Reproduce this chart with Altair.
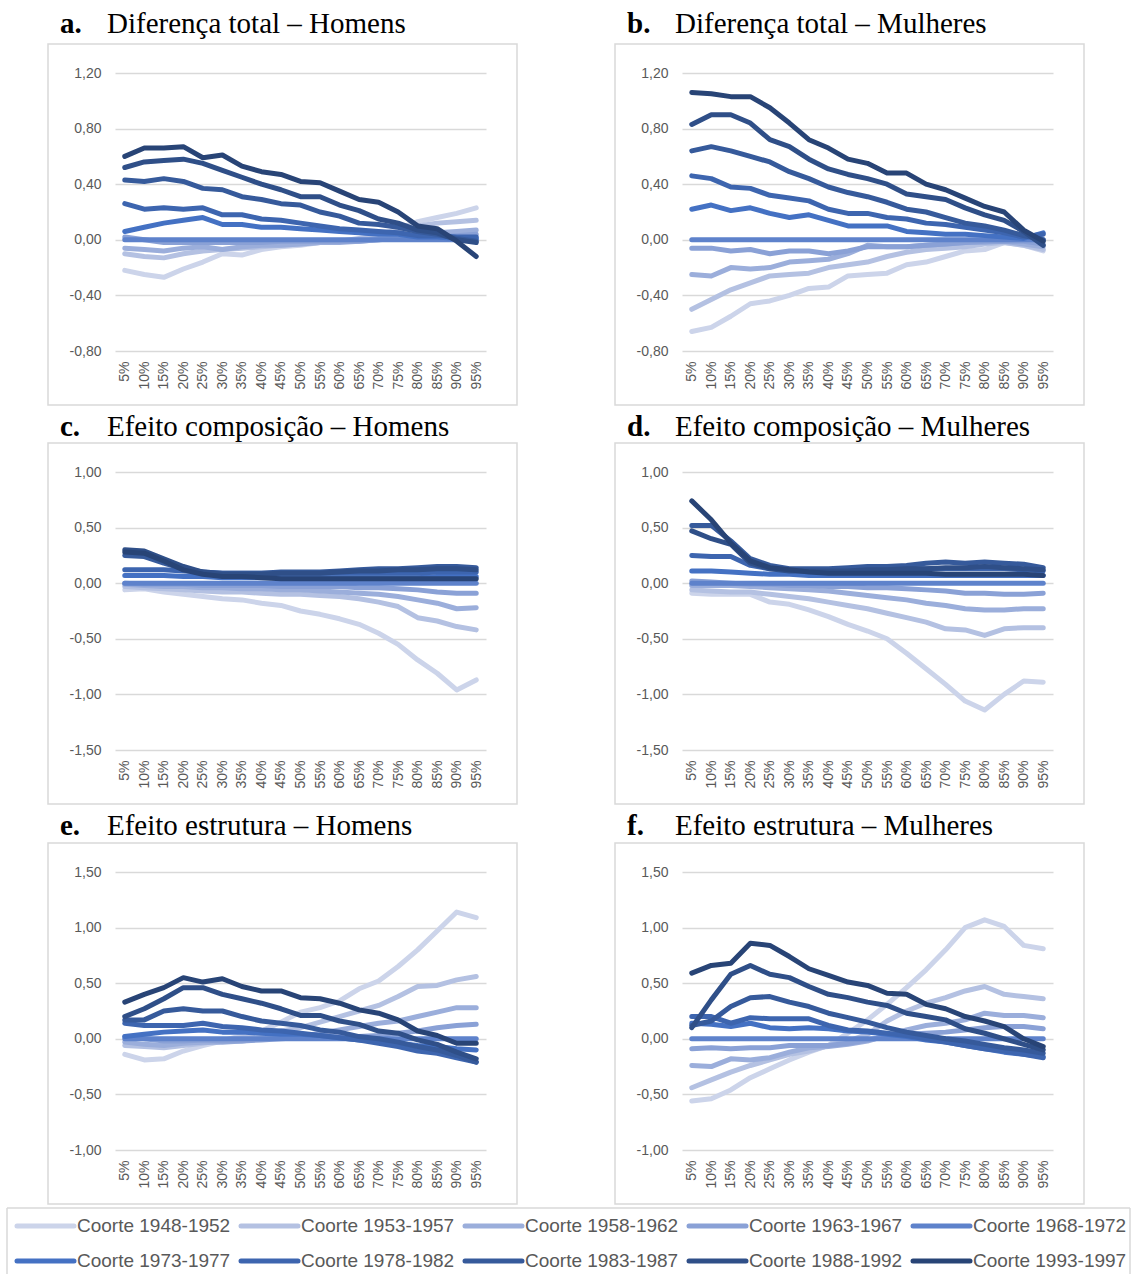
import altair as alt
import pandas as pd

percentis = ["5%", "10%", "15%", "20%", "25%", "30%", "35%", "40%", "45%", "50%",
             "55%", "60%", "65%", "70%", "75%", "80%", "85%", "90%", "95%"]

coortes = ["Coorte 1948-1952", "Coorte 1953-1957", "Coorte 1958-1962", "Coorte 1963-1967",
           "Coorte 1968-1972", "Coorte 1973-1977", "Coorte 1978-1982", "Coorte 1983-1987",
           "Coorte 1988-1992", "Coorte 1993-1997"]

cores = ["#CCD4EA", "#B4C1E2", "#9BAEDB", "#8AA1D6", "#5E82CB",
         "#4471C3", "#3D65AF", "#365A9B", "#2F4F88", "#284476"]

# legend grid: column and row of each cohort entry
leg_col = [0, 1, 2, 3, 4, 0, 1, 2, 3, 4]
leg_row = [0, 0, 0, 0, 0, 1, 1, 1, 1, 1]

zero = [0.0] * 19

# a. Diferença total – Homens
a_48 = [-0.22, -0.25, -0.27, -0.21, -0.16, -0.10, -0.11, -0.07, -0.05, -0.04, -0.02, -0.01, 0.00, 0.03, 0.08, 0.13, 0.16, 0.19, 0.23]
a_53 = [-0.10, -0.12, -0.13, -0.10, -0.08, -0.07, -0.06, -0.05, -0.04, -0.03, -0.02, -0.01, 0.01, 0.03, 0.06, 0.10, 0.12, 0.13, 0.14]
a_58 = [-0.06, -0.07, -0.08, -0.06, -0.05, -0.07, -0.05, -0.04, -0.04, -0.03, -0.02, -0.02, -0.01, 0.00, 0.02, 0.03, 0.05, 0.06, 0.07]
a_63 = [0.02, 0.00, -0.02, -0.02, -0.02, -0.02, -0.02, -0.02, -0.01, -0.01, -0.01, -0.01, -0.01, 0.00, 0.01, 0.01, 0.02, 0.03, 0.04]
a_73 = [0.06, 0.09, 0.12, 0.14, 0.16, 0.11, 0.11, 0.09, 0.09, 0.08, 0.07, 0.06, 0.05, 0.04, 0.04, 0.02, 0.02, 0.01, 0.01]
a_78 = [0.26, 0.22, 0.23, 0.22, 0.23, 0.18, 0.18, 0.15, 0.14, 0.12, 0.10, 0.08, 0.07, 0.06, 0.05, 0.03, 0.03, 0.02, 0.02]
a_83 = [0.43, 0.42, 0.44, 0.42, 0.37, 0.36, 0.31, 0.29, 0.26, 0.25, 0.20, 0.17, 0.12, 0.11, 0.09, 0.06, 0.04, 0.01, -0.01]
a_88 = [0.52, 0.56, 0.57, 0.58, 0.55, 0.50, 0.45, 0.40, 0.36, 0.31, 0.31, 0.25, 0.21, 0.15, 0.12, 0.07, 0.05, 0.00, -0.02]
a_93 = [0.60, 0.66, 0.66, 0.67, 0.59, 0.61, 0.53, 0.49, 0.47, 0.42, 0.41, 0.35, 0.29, 0.27, 0.20, 0.10, 0.08, -0.01, -0.12]

# b. Diferença total – Mulheres
b_48 = [-0.66, -0.63, -0.55, -0.46, -0.44, -0.40, -0.35, -0.34, -0.26, -0.25, -0.24, -0.18, -0.16, -0.12, -0.08, -0.07, -0.02, -0.04, -0.08]
b_53 = [-0.50, -0.43, -0.36, -0.31, -0.26, -0.25, -0.24, -0.20, -0.18, -0.16, -0.12, -0.09, -0.07, -0.06, -0.05, -0.03, -0.02, -0.04, -0.07]
b_58 = [-0.25, -0.26, -0.20, -0.21, -0.20, -0.16, -0.15, -0.14, -0.10, -0.04, -0.05, -0.05, -0.04, -0.03, -0.02, -0.02, -0.01, -0.03, -0.05]
b_63 = [-0.06, -0.06, -0.08, -0.07, -0.10, -0.08, -0.08, -0.10, -0.08, -0.05, -0.05, -0.05, -0.04, -0.03, -0.02, -0.01, -0.01, -0.01, -0.03]
b_73 = [0.22, 0.25, 0.21, 0.23, 0.19, 0.16, 0.18, 0.14, 0.10, 0.10, 0.10, 0.06, 0.05, 0.04, 0.04, 0.03, 0.02, 0.01, 0.05]
b_78 = [0.46, 0.44, 0.38, 0.37, 0.32, 0.30, 0.28, 0.22, 0.19, 0.19, 0.16, 0.15, 0.12, 0.11, 0.09, 0.07, 0.05, 0.02, 0.04]
b_83 = [0.64, 0.67, 0.64, 0.60, 0.56, 0.49, 0.44, 0.38, 0.34, 0.31, 0.27, 0.22, 0.20, 0.16, 0.12, 0.10, 0.07, 0.03, 0.00]
b_88 = [0.83, 0.90, 0.90, 0.84, 0.72, 0.67, 0.58, 0.51, 0.47, 0.44, 0.40, 0.33, 0.31, 0.29, 0.23, 0.18, 0.14, 0.06, -0.04]
b_93 = [1.06, 1.05, 1.03, 1.03, 0.95, 0.84, 0.72, 0.66, 0.58, 0.55, 0.48, 0.48, 0.40, 0.36, 0.30, 0.24, 0.20, 0.07, -0.01]

# c. Efeito composição – Homens
c_48 = [-0.06, -0.05, -0.08, -0.10, -0.12, -0.14, -0.15, -0.18, -0.20, -0.25, -0.28, -0.32, -0.37, -0.45, -0.55, -0.69, -0.81, -0.96, -0.87]
c_53 = [-0.03, -0.04, -0.05, -0.06, -0.07, -0.08, -0.08, -0.09, -0.10, -0.10, -0.11, -0.12, -0.14, -0.17, -0.21, -0.31, -0.34, -0.39, -0.42]
c_58 = [-0.01, -0.02, -0.03, -0.03, -0.04, -0.04, -0.05, -0.05, -0.06, -0.06, -0.07, -0.08, -0.09, -0.10, -0.12, -0.15, -0.18, -0.23, -0.22]
c_63 = [0.00, -0.01, -0.01, -0.01, -0.02, -0.02, -0.02, -0.02, -0.03, -0.03, -0.03, -0.03, -0.04, -0.04, -0.05, -0.06, -0.08, -0.09, -0.09]
c_73 = [0.07, 0.07, 0.07, 0.06, 0.06, 0.05, 0.05, 0.05, 0.05, 0.05, 0.05, 0.05, 0.05, 0.05, 0.05, 0.05, 0.06, 0.06, 0.06]
c_78 = [0.12, 0.12, 0.12, 0.11, 0.10, 0.09, 0.09, 0.09, 0.09, 0.09, 0.09, 0.09, 0.09, 0.09, 0.09, 0.09, 0.10, 0.10, 0.10]
c_83 = [0.25, 0.24, 0.18, 0.13, 0.10, 0.09, 0.09, 0.09, 0.10, 0.10, 0.10, 0.11, 0.12, 0.13, 0.13, 0.14, 0.15, 0.15, 0.14]
c_88 = [0.30, 0.29, 0.22, 0.15, 0.10, 0.08, 0.08, 0.08, 0.09, 0.09, 0.09, 0.10, 0.11, 0.11, 0.12, 0.12, 0.13, 0.13, 0.12]
c_93 = [0.28, 0.27, 0.20, 0.12, 0.08, 0.06, 0.06, 0.05, 0.04, 0.04, 0.04, 0.04, 0.04, 0.04, 0.04, 0.04, 0.04, 0.04, 0.04]

# d. Efeito composição – Mulheres
d_48 = [-0.09, -0.10, -0.10, -0.10, -0.17, -0.19, -0.24, -0.30, -0.37, -0.43, -0.50, -0.63, -0.77, -0.91, -1.06, -1.14, -1.00, -0.88, -0.89]
d_53 = [-0.06, -0.07, -0.08, -0.08, -0.10, -0.12, -0.14, -0.17, -0.20, -0.23, -0.27, -0.31, -0.35, -0.41, -0.42, -0.47, -0.41, -0.40, -0.40]
d_58 = [-0.02, -0.02, -0.02, -0.03, -0.04, -0.05, -0.06, -0.07, -0.09, -0.11, -0.13, -0.15, -0.18, -0.20, -0.23, -0.24, -0.24, -0.23, -0.23]
d_63 = [0.02, 0.01, 0.00, -0.01, -0.01, -0.02, -0.02, -0.03, -0.03, -0.04, -0.04, -0.05, -0.06, -0.07, -0.09, -0.09, -0.10, -0.10, -0.09]
d_73 = [0.11, 0.11, 0.10, 0.09, 0.08, 0.08, 0.07, 0.07, 0.07, 0.07, 0.07, 0.07, 0.07, 0.07, 0.07, 0.07, 0.07, 0.07, 0.07]
d_78 = [0.25, 0.24, 0.24, 0.16, 0.13, 0.12, 0.12, 0.12, 0.12, 0.12, 0.12, 0.13, 0.13, 0.13, 0.13, 0.13, 0.13, 0.12, 0.11]
d_83 = [0.52, 0.52, 0.38, 0.22, 0.16, 0.13, 0.13, 0.13, 0.14, 0.15, 0.15, 0.16, 0.18, 0.19, 0.18, 0.19, 0.18, 0.17, 0.14]
d_88 = [0.47, 0.40, 0.35, 0.18, 0.13, 0.11, 0.11, 0.11, 0.11, 0.12, 0.12, 0.13, 0.13, 0.14, 0.14, 0.15, 0.14, 0.13, 0.12]
d_93 = [0.74, 0.57, 0.36, 0.20, 0.14, 0.12, 0.10, 0.09, 0.09, 0.09, 0.09, 0.09, 0.09, 0.08, 0.08, 0.08, 0.08, 0.08, 0.07]

# e. Efeito estrutura – Homens
e_48 = [-0.14, -0.19, -0.18, -0.11, -0.06, -0.02, 0.03, 0.07, 0.15, 0.24, 0.28, 0.34, 0.45, 0.52, 0.65, 0.80, 0.97, 1.14, 1.09]
e_53 = [-0.06, -0.07, -0.08, -0.06, -0.04, -0.01, 0.01, 0.03, 0.07, 0.10, 0.15, 0.20, 0.25, 0.30, 0.38, 0.47, 0.48, 0.53, 0.56]
e_58 = [-0.03, -0.05, -0.06, -0.04, -0.03, -0.03, -0.02, 0.00, 0.01, 0.02, 0.05, 0.08, 0.11, 0.14, 0.16, 0.20, 0.24, 0.28, 0.28]
e_63 = [0.02, 0.00, -0.02, -0.02, -0.01, -0.02, -0.02, -0.01, 0.00, 0.01, 0.01, 0.02, 0.02, 0.03, 0.05, 0.07, 0.10, 0.12, 0.13]
e_73 = [0.02, 0.04, 0.06, 0.07, 0.08, 0.06, 0.06, 0.05, 0.04, 0.04, 0.03, 0.01, -0.01, -0.02, -0.04, -0.06, -0.07, -0.09, -0.10]
e_78 = [0.14, 0.12, 0.12, 0.12, 0.14, 0.11, 0.10, 0.08, 0.07, 0.05, 0.03, 0.01, -0.01, -0.04, -0.07, -0.11, -0.13, -0.17, -0.21]
e_83 = [0.17, 0.17, 0.25, 0.27, 0.25, 0.25, 0.20, 0.16, 0.14, 0.12, 0.08, 0.06, 0.02, 0.00, -0.03, -0.07, -0.10, -0.15, -0.21]
e_88 = [0.20, 0.27, 0.36, 0.46, 0.46, 0.40, 0.36, 0.32, 0.27, 0.21, 0.21, 0.16, 0.13, 0.07, 0.05, -0.01, -0.05, -0.12, -0.18]
e_93 = [0.33, 0.40, 0.46, 0.55, 0.51, 0.54, 0.47, 0.43, 0.43, 0.37, 0.36, 0.32, 0.26, 0.23, 0.17, 0.07, 0.03, -0.04, -0.04]

# f. Efeito estrutura – Mulheres
f_48 = [-0.56, -0.54, -0.46, -0.35, -0.27, -0.19, -0.12, -0.06, 0.05, 0.17, 0.31, 0.46, 0.62, 0.80, 1.00, 1.07, 1.01, 0.84, 0.81]
f_53 = [-0.44, -0.37, -0.30, -0.24, -0.19, -0.14, -0.11, -0.06, -0.02, 0.04, 0.16, 0.25, 0.32, 0.37, 0.43, 0.47, 0.40, 0.38, 0.36]
f_58 = [-0.24, -0.25, -0.18, -0.19, -0.17, -0.12, -0.08, -0.07, -0.05, -0.02, 0.03, 0.08, 0.12, 0.14, 0.17, 0.23, 0.21, 0.21, 0.19]
f_63 = [-0.09, -0.08, -0.09, -0.08, -0.08, -0.06, -0.06, -0.06, -0.04, -0.01, 0.02, 0.04, 0.05, 0.06, 0.08, 0.10, 0.11, 0.11, 0.09]
f_73 = [0.14, 0.13, 0.11, 0.14, 0.10, 0.09, 0.10, 0.09, 0.07, 0.06, 0.04, 0.02, -0.01, -0.03, -0.06, -0.09, -0.12, -0.14, -0.16]
f_78 = [0.20, 0.20, 0.14, 0.19, 0.18, 0.18, 0.18, 0.12, 0.08, 0.07, 0.05, 0.03, 0.00, -0.03, -0.06, -0.09, -0.11, -0.14, -0.17]
f_83 = [0.12, 0.16, 0.29, 0.37, 0.38, 0.33, 0.29, 0.23, 0.19, 0.15, 0.10, 0.06, 0.03, 0.00, -0.02, -0.05, -0.08, -0.10, -0.13]
f_88 = [0.10, 0.35, 0.58, 0.66, 0.58, 0.55, 0.47, 0.40, 0.37, 0.33, 0.30, 0.23, 0.20, 0.17, 0.09, 0.05, 0.00, -0.05, -0.10]
f_93 = [0.59, 0.66, 0.68, 0.86, 0.84, 0.74, 0.63, 0.57, 0.51, 0.48, 0.41, 0.40, 0.31, 0.27, 0.20, 0.16, 0.11, 0.00, -0.07]

paineis = [
    ("a.", "Diferença total – Homens", [a_48, a_53, a_58, a_63, zero, a_73, a_78, a_83, a_88, a_93], [-0.8, -0.4, 0.0, 0.4, 0.8, 1.2]),
    ("b.", "Diferença total – Mulheres", [b_48, b_53, b_58, b_63, zero, b_73, b_78, b_83, b_88, b_93], [-0.8, -0.4, 0.0, 0.4, 0.8, 1.2]),
    ("c.", "Efeito composição – Homens", [c_48, c_53, c_58, c_63, zero, c_73, c_78, c_83, c_88, c_93], [-1.5, -1.0, -0.5, 0.0, 0.5, 1.0]),
    ("d.", "Efeito composição – Mulheres", [d_48, d_53, d_58, d_63, zero, d_73, d_78, d_83, d_88, d_93], [-1.5, -1.0, -0.5, 0.0, 0.5, 1.0]),
    ("e.", "Efeito estrutura – Homens", [e_48, e_53, e_58, e_63, zero, e_73, e_78, e_83, e_88, e_93], [-1.0, -0.5, 0.0, 0.5, 1.0, 1.5]),
    ("f.", "Efeito estrutura – Mulheres", [f_48, f_53, f_58, f_63, zero, f_73, f_78, f_83, f_88, f_93], [-1.0, -0.5, 0.0, 0.5, 1.0, 1.5]),
]

# layout (cell sizes and plot-origin offsets inside each cell)
W, H = 371, 278
OX = 115                                # shared x offset of the plot origin in each column
col_cells = [(OX, 566), (116, 566)]     # (origin offset x, cell width)
row_cells = [(73, 408), (64, 400), (64, 398)]  # (origin offset y, cell height)
title_base = [-40, -36, -37]

GRAY = "#595959"
GRID = "#D9D9D9"

label_expr = "(datum.value < 0 ? '-' : '') + replace(format(abs(datum.value), '.2f'), '.', ',')"

color_enc = alt.Color("coorte:N", sort=coortes,
                      scale=alt.Scale(domain=coortes, range=cores), legend=None)


def painel(idx, letra, titulo, series, ticks):
    r, c = divmod(idx, 2)
    ox, cw = col_cells[c]
    oy, ch = row_cells[r]
    rows = []
    for coorte, vals in zip(coortes, series):
        for p, v in zip(percentis, vals):
            rows.append({"percentil": p, "coorte": coorte, "valor": v})
    df = pd.DataFrame(rows)
    one = pd.DataFrame({"letra": [letra], "titulo": [titulo]})

    cell = alt.Chart(one).mark_rect(opacity=0).encode(
        x=alt.value(-ox), x2=alt.value(cw - ox), y=alt.value(-oy), y2=alt.value(ch - oy))
    frame = alt.Chart(one).mark_rect(fillOpacity=0, stroke=GRID, strokeWidth=1.5).encode(
        x=alt.value(-67), x2=alt.value(402), y=alt.value(-29), y2=alt.value(332))
    lines = alt.Chart(df).mark_line(strokeWidth=5, strokeCap="round", strokeJoin="round").encode(
        x=alt.X("percentil:O", sort=percentis,
                scale=alt.Scale(type="point", padding=0.5),
                axis=alt.Axis(title=None, labelAngle=270, labelFont="Liberation Sans",
                              labelFontSize=14, labelColor=GRAY, labelPadding=10,
                              ticks=False, domain=False, grid=False)),
        y=alt.Y("valor:Q", scale=alt.Scale(domain=[ticks[0], ticks[-1]], nice=False, zero=False),
                axis=alt.Axis(title=None, values=ticks, labelExpr=label_expr,
                              labelFont="Liberation Sans", labelFontSize=14, labelColor=GRAY,
                              labelPadding=14, ticks=False, domain=False,
                              gridColor=GRID, gridWidth=1.5)),
        color=color_enc,
    )
    t_letra = alt.Chart(one).mark_text(align="left", baseline="alphabetic", font="Liberation Serif",
                                       fontSize=29, fontWeight="bold", color="black").encode(
        x=alt.value(-55), y=alt.value(title_base[r]), text="letra:N")
    t_titulo = alt.Chart(one).mark_text(align="left", baseline="alphabetic", font="Liberation Serif",
                                        fontSize=29, color="black").encode(
        x=alt.value(-8 if c == 0 else -7), y=alt.value(title_base[r]), text="titulo:N")
    return alt.layer(cell, frame, lines, t_letra, t_titulo).properties(width=W, height=H)


charts = [painel(i, *p) for i, p in enumerate(paineis)]
linhas = [alt.hconcat(charts[2 * k], charts[2 * k + 1], spacing=0) for k in range(3)]

# custom legend row: cell 1132 x 68, its origin aligned with the panel origins (x = OX)
LW, LH = 1132, 68
leg_df = pd.DataFrame({"coorte": coortes, "col": leg_col, "linha": leg_row})
leg_one = pd.DataFrame({"k": [0]})
xs = alt.Scale(domain=[0, 5], range=[17 - OX, 17 - OX + 5 * 224])
ys = alt.Scale(domain=[0, 1], range=[20, 55])
leg_base = alt.Chart(leg_df).transform_calculate(
    xe="datum.col + 57/224", xt="datum.col + 60/224")
leg_cell = alt.Chart(leg_one).mark_rect(opacity=0).encode(
    x=alt.value(-OX), x2=alt.value(LW - OX), y=alt.value(0), y2=alt.value(LH))
leg_top = alt.Chart(leg_one).mark_rule(color=GRID, strokeWidth=1.5).encode(
    x=alt.value(7 - OX), x2=alt.value(1130 - OX), y=alt.value(2))
leg_left = alt.Chart(leg_one).mark_rule(color=GRID, strokeWidth=1.5).encode(
    x=alt.value(7 - OX), y=alt.value(2), y2=alt.value(LH))
leg_right = alt.Chart(leg_one).mark_rule(color=GRID, strokeWidth=1.5).encode(
    x=alt.value(1130 - OX), y=alt.value(2), y2=alt.value(LH))
leg_lines = leg_base.mark_rule(strokeWidth=5, strokeCap="round").encode(
    x=alt.X("col:Q", scale=xs, axis=None),
    x2="xe:Q",
    y=alt.Y("linha:Q", scale=ys, axis=None),
    color=color_enc,
)
leg_text = leg_base.mark_text(align="left", baseline="middle", font="Liberation Sans",
                              fontSize=19, color=GRAY).encode(
    x=alt.X("xt:Q", scale=xs, axis=None),
    y=alt.Y("linha:Q", scale=ys, axis=None),
    text="coorte:N",
)
legenda = alt.layer(leg_cell, leg_top, leg_left, leg_right, leg_lines, leg_text).properties(
    width=LW - OX - 20, height=LH)

chart = alt.vconcat(*linhas, legenda, spacing=0).properties(
    padding=0, background="white"
).configure_view(stroke=None)

chart.save("out.html", embed_options={"renderer": "svg", "actions": False})
